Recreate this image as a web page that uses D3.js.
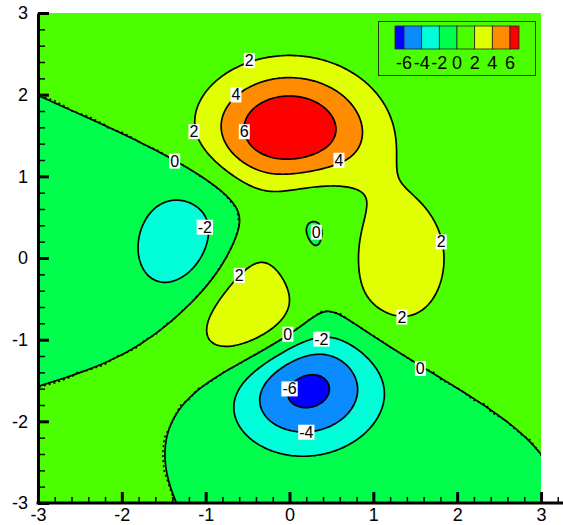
<!DOCTYPE html>
<html>
<head>
<meta charset="utf-8">
<script src="https://cdn.jsdelivr.net/npm/d3@7"></script>
<style>
  body { margin: 0; background: #fff; }
  svg { display: block; font-family: "Liberation Sans", Arial, sans-serif; }
</style>
</head>
<body>
<div id="container"></div>
<script>
// contour levels and band colours (lowest band first)
const levels = [-6, -4, -2, 0, 2, 4, 6];
const bandColors = ["#0000ff", "#0a8cff", "#00ffd8", "#00ff4c", "#4cff00", "#e0ff00", "#ff8c00", "#ff0000"];
const legendLabels = ["-6", "-4", "-2", "0", "2", "4", "6"];
const xTicks = [-3, -2, -1, 0, 1, 2, 3];
const yTicks = [-3, -2, -1, 0, 1, 2, 3];

// surface: MATLAB "peaks" function that the plot shows
const peakA = 3, peakB = 10, peakC = 1 / 3;
function surface(x, y) {
    return peakA * Math.pow(1 - x, 2) * Math.exp(-x * x - Math.pow(y + 1, 2))
        - peakB * (x / 5 - Math.pow(x, 3) - Math.pow(y, 5)) * Math.exp(-x * x - y * y)
        - peakC * Math.exp(-Math.pow(x + 1, 2) - y * y);
}

// contour labels: [x, y, level]
const labelX = [-0.48, -0.64, -1.14, -0.54, 0.59, -1.37, -1.01, 0.32, 1.81, -0.60, 1.34, -0.02, 0.38, 1.56, 0.00, 0.20];
const labelY = [2.42, 2.00, 1.55, 1.55, 1.20, 1.19, 0.38, 0.32, 0.20, -0.21, -0.72, -0.93, -0.99, -1.35, -1.60, -2.13];
const labelText = ["2", "4", "2", "6", "4", "0", "-2", "0", "2", "2", "2", "0", "-2", "0", "-6", "-4"];

const W = 563, H = 525;
const x = d3.scaleLinear().domain([-3, 3]).range([38, 541]);
const y = d3.scaleLinear().domain([-3, 3]).range([503, 13]);

const svg = d3.select("#container").append("svg")
    .attr("width", W)
    .attr("height", H);

svg.append("clipPath").attr("id", "plotclip")
  .append("rect")
    .attr("x", x(-3)).attr("y", y(3))
    .attr("width", x(3) - x(-3)).attr("height", y(-3) - y(3));

// build a grid padded past the plot so ring borders stay out of the clip
function makeGrid(step, pad) {
    const lo = -3 - pad, hi = 3 + pad;
    const n = Math.round((hi - lo) / step) + 1;
    const values = new Array(n * n);
    for (let j = 0; j < n; j++) {
        const yy = hi - j * step;
        for (let i = 0; i < n; i++) {
            values[j * n + i] = surface(lo + i * step, yy);
        }
    }
    const proj = d3.geoTransform({
        point: function (u, v) {
            this.stream.point(x(lo + (u - 0.5) * step), y(hi - (v - 0.5) * step));
        }
    });
    return { n, values, path: d3.geoPath(proj) };
}

const fine = makeGrid(0.025, 0.2);
const coarse = makeGrid(0.2, 0.4);

const plot = svg.append("g").attr("clip-path", "url(#plotclip)");

plot.append("rect")
    .attr("x", x(-3)).attr("y", y(3))
    .attr("width", x(3) - x(-3)).attr("height", y(-3) - y(3))
    .attr("fill", bandColors[0]);

const bands = d3.contours().size([fine.n, fine.n]).thresholds(levels)(fine.values);
plot.selectAll("path.band")
    .data(bands)
  .enter().append("path")
    .attr("class", "band")
    .attr("d", fine.path)
    .attr("fill", (d, i) => bandColors[i + 1]);

// dotted zero line from the coarse grid
const coarseZero = d3.contours().size([coarse.n, coarse.n]).thresholds([0])(coarse.values);
plot.selectAll("path.dot")
    .data(coarseZero)
  .enter().append("path")
    .attr("class", "dot")
    .attr("d", coarse.path)
    .attr("fill", "none")
    .attr("stroke", "#000")
    .attr("stroke-width", 1.6)
    .attr("stroke-dasharray", "2,3");

plot.selectAll("path.line")
    .data(bands)
  .enter().append("path")
    .attr("class", "line")
    .attr("d", fine.path)
    .attr("fill", "none")
    .attr("stroke", "#000")
    .attr("stroke-width", 1.7);

// contour labels with white boxes
const labels = svg.append("g").selectAll("g")
    .data(labelText)
  .enter().append("g")
    .attr("transform", (d, i) => `translate(${x(labelX[i])},${y(labelY[i])})`);

labels.append("text")
    .attr("text-anchor", "middle")
    .attr("dy", "0.36em")
    .attr("font-size", 16)
    .text(d => d);

labels.each(function () {
    const g = d3.select(this);
    const bb = g.select("text").node().getBBox();
    g.insert("rect", "text")
        .attr("x", bb.x - 1).attr("y", bb.y + 1)
        .attr("width", bb.width + 2).attr("height", bb.height - 2)
        .attr("fill", "#fff");
});

// axes with inward ticks
const xAxisScale = x.copy().domain([-3, 3.25]).range([x(-3), x(3.25)]);
const xMinor = d3.range(-3, 3.21, 0.2).map(v => +v.toFixed(1));
const yMinor = d3.range(-3, 3.01, 0.2).map(v => +v.toFixed(1));

svg.append("g")
    .attr("transform", `translate(0,${y(-3)})`)
    .call(d3.axisBottom(xAxisScale).tickValues(xMinor).tickSize(-6).tickFormat(""))
    .call(g => g.select(".domain").remove());

const xAxis = svg.append("g")
    .attr("transform", `translate(0,${y(-3)})`)
    .call(d3.axisBottom(xAxisScale).tickValues(xTicks).tickSize(-11).tickSizeOuter(0)
        .tickPadding(5).tickFormat(d => String(d)));

svg.append("g")
    .attr("transform", `translate(${x(-3)},0)`)
    .call(d3.axisLeft(y).tickValues(yMinor).tickSize(-7).tickFormat(""))
    .call(g => g.select(".domain").remove());

const yAxis = svg.append("g")
    .attr("transform", `translate(${x(-3)},0)`)
    .call(d3.axisLeft(y).tickValues(yTicks).tickSize(-11).tickSizeOuter(0)
        .tickPadding(10).tickFormat(d => String(d)));

svg.selectAll(".tick line").attr("stroke-width", 1.5);
[xAxis, yAxis].forEach(a => {
    a.selectAll(".tick line").attr("stroke-width", 3);
    a.select(".domain").attr("stroke-width", 3);
    a.selectAll("text").attr("font-size", 18).attr("font-family", "Liberation Sans, Arial, sans-serif").attr("fill", "#000");
});
xAxis.select(".domain").attr("d", `M${x(-3) - 1.5},0H${W}`);

// legend
const lg = svg.append("g");
lg.append("rect")
    .attr("x", 378.5).attr("y", 21.5)
    .attr("width", 157).attr("height", 54)
    .attr("fill", "none")
    .attr("stroke", "#1f3d10")
    .attr("stroke-width", 1);

const lx = d3.scaleLinear().domain([-6, 6]).range([404, 510]);
const endW = 9;
const keyX0 = [lx(-6) - endW, ...levels.map(v => lx(v))];
const keyX1 = [...levels.map(v => lx(v)), lx(6) + endW];
lg.selectAll("rect.key")
    .data(bandColors)
  .enter().append("rect")
    .attr("class", "key")
    .attr("x", (d, i) => keyX0[i])
    .attr("y", 26)
    .attr("width", (d, i) => keyX1[i] - keyX0[i])
    .attr("height", 23)
    .attr("fill", d => d)
    .attr("stroke", "#222")
    .attr("stroke-width", 0.8);

lg.selectAll("text")
    .data(legendLabels)
  .enter().append("text")
    .attr("x", (d, i) => lx(levels[i]))
    .attr("y", 69)
    .attr("text-anchor", "middle")
    .attr("font-size", 18)
    .text(d => d);
</script>
</body>
</html>
